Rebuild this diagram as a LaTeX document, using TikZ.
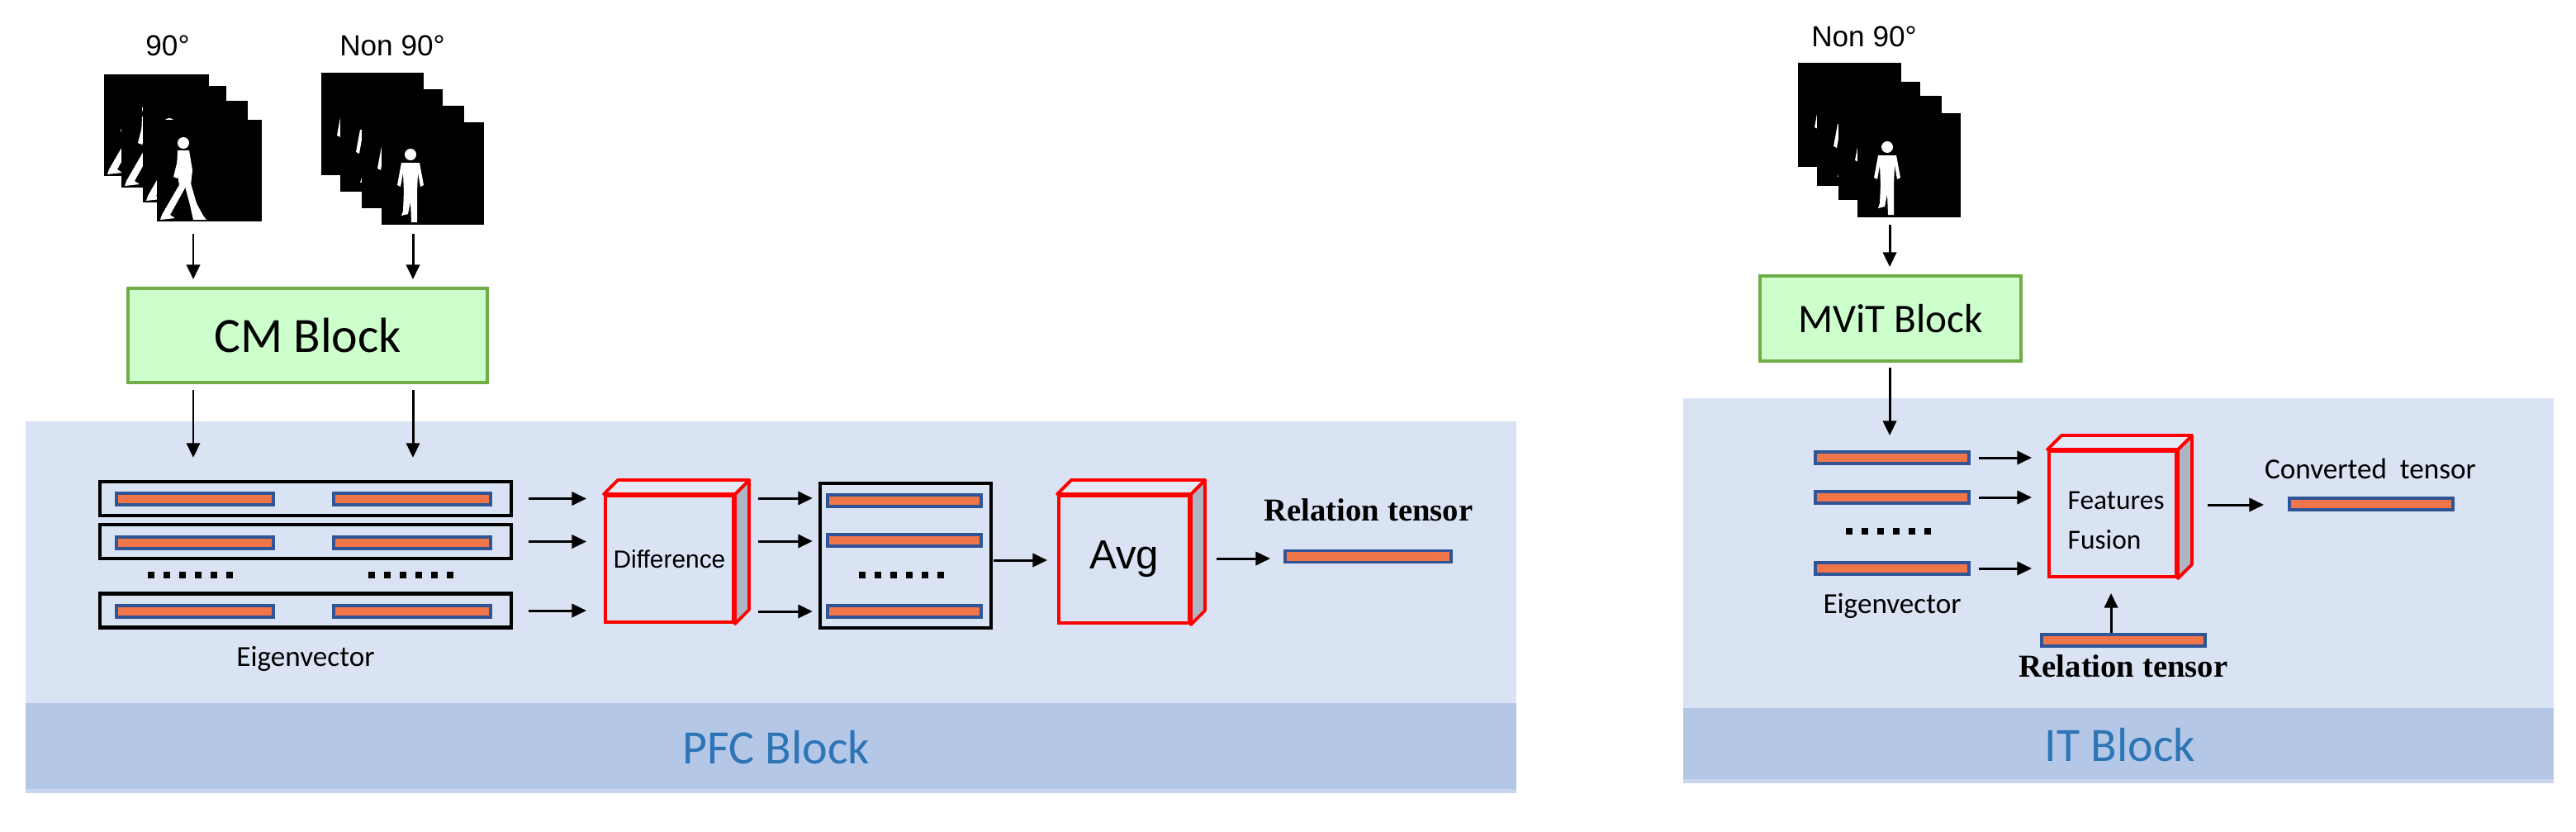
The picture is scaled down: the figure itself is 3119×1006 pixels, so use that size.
\documentclass[tikz,border=0pt]{standalone}
\usepackage{fontspec}
\setmainfont{Carlito}
\newfontfamily\arialf{Liberation Sans}
\newfontfamily\timesf{Liberation Serif}
\usetikzlibrary{arrows.meta,calc}
\definecolor{bgc}{HTML}{DAE3F3}
\definecolor{bandc}{HTML}{B4C7E7}
\definecolor{stripc}{HTML}{C9D6EE}
\definecolor{titc}{HTML}{2E75B6}
\definecolor{grf}{HTML}{CCFFCC}
\definecolor{grd}{HTML}{70AD47}
\definecolor{barf}{HTML}{F07548}
\definecolor{barb}{HTML}{2F5597}
\definecolor{sidec}{HTML}{ADB5C4}
\definecolor{topc}{HTML}{E4EAF6}
\newcommand\mkcube[6]{%
  \node[front, minimum width=#4, minimum height=#5] (#1) at (#2,#3) {#6};
  \filldraw[fill=sidec, draw=red, line width=1.1pt, line join=round] (#1.north east) -- ++(17,-17) -- ($(#1.south east)+(17,-17)$) -- (#1.south east) -- cycle;
  \filldraw[fill=topc, draw=red, line width=1.1pt, line join=round] (#1.north west) -- ++(17,-17) -- ($(#1.north east)+(17,-17)$) -- (#1.north east) -- cycle;
}
\newcommand\sidewalker[2]{\begin{scope}[shift={(#1,#2)}]
  \fill[white] (2,-93) circle (7);
  \fill[white] (-5,-84) -- (9,-84) -- (13,-60) -- (11,-42) -- (-3,-42) -- (-6,-60) -- cycle;
  \fill[white] (-3,-80) -- (2,-80) -- (-5,-50) -- (-10,-52) -- cycle;
  \fill[white] (-2,-44) -- (6,-42) -- (-14,-6) -- (-8,-2) -- (-26,0) -- (-24,-6) -- cycle;
  \fill[white] (3,-44) -- (11,-44) -- (18,-20) -- (26,-5) -- (30,0) -- (14,0) -- (10,-18) -- cycle;
\end{scope}}
\newcommand\frontwalker[2]{\begin{scope}[shift={(#1,#2)}]
  \fill[white] (0,-82) circle (7);
  \fill[white] (-11,-72) -- (11,-72) -- (16,-45) -- (12,-43) -- (9,-60) -- (8,-36) -- (-8,-36) -- (-9,-60) -- (-12,-43) -- (-16,-45) -- cycle;
  \fill[white] (-8,-37) -- (8,-37) -- (8,0) -- (1,0) -- (0,-25) -- (-3,-10) -- (-11,-8) -- (-9,-14) -- cycle;
\end{scope}}
\begin{document}
\begin{tikzpicture}[x=0.01cm,y=-0.01cm,
  bar/.style={draw=barb, fill=barf, line width=1.1pt, inner sep=0pt, minimum height=0.14cm},
  arr/.style={-{Triangle[length=5pt,width=4.6pt]}, line width=0.85pt},
  rowbox/.style={draw, line width=1.2pt, inner sep=0pt},
  front/.style={draw=red, line width=1.1pt, fill=bgc, inner sep=0pt},
  gbox/.style={draw=grd, fill=grf, line width=1.1pt, inner sep=0pt},
  dots/.style={line width=2.3pt, dash pattern=on 2.3pt off 3.1pt},
  frame/.style={fill=black},
  lab/.style={font=\arialf\fontsize{10}{12}\selectfont},
  ttl/.style={text=titc, font=\fontsize{16.5}{19}\selectfont}]
\useasboundingbox (0,0) rectangle (3119,1006);
\fill[white] (0,0) rectangle (3119,1006);
% panels
\fill[bgc] (31,510) rectangle (1836,851);
\fill[bandc] (31,851) rectangle (1836,955);
\fill[stripc] (31,955) rectangle (1836,960);
\fill[bgc] (2038,482) rectangle (3092,857);
\fill[bandc] (2038,857) rectangle (3092,943);
\fill[stripc] (2038,943) rectangle (3092,948);
\node[ttl] (pfc) at (940,905) {PFC Block};
\node[ttl] (itb) at (2567,902) {IT Block};
% ---- left stacks
\node[lab] (l90) at (203,55) {90°};
\node[lab] (ln90) at (475,55) {Non 90°};
\foreach \x/\y in {126/90,147/104,173/122,190/145}{
  \fill[frame] (\x,\y) rectangle ++(127,123);
  \sidewalker{\x+30}{\y+121}}
\foreach \x/\y in {389/88,412/108,438/128,462/148}{
  \fill[frame] (\x,\y) rectangle ++(124,124);
  \frontwalker{\x+35}{\y+121}}
\coordinate (s1) at (234,283);
\coordinate (s2) at (500,283);
\node[gbox, minimum width=4.35cm, minimum height=1.14cm, font=\fontsize{17}{20}\selectfont] (cm) at (372.5,406) {CM Block};
\draw[arr] (s1) -- (s1 |- cm.north) [shorten >=0.09cm];
\draw[arr, shorten >=0.09cm] (s2) -- (s2 |- cm.north);
% rows
\node[rowbox, minimum width=4.98cm, minimum height=0.41cm] (r1) at (370,603.5) {};
\node[rowbox, minimum width=4.98cm, minimum height=0.41cm] (r2) at (370,655.5) {};
\node[rowbox, minimum width=4.98cm, minimum height=0.41cm] (r3) at (370,739) {};
\foreach \i/\y in {1/604,2/657,3/740}{
  \node[bar, minimum width=1.9cm] (la\i) at (236,\y) {};
  \node[bar, minimum width=1.9cm] (lb\i) at (499,\y) {};}
\coordinate (c1) at (234,472);
\coordinate (c2) at (500,472);
\draw[arr, shorten >=0.27cm] (c1) -- (c1 |- r1.north);
\draw[arr, shorten >=0.27cm] (c2) -- (c2 |- r1.north);
\draw[dots] (179,696) -- (288,696);
\draw[dots] (446,696) -- (555,696);
\node[font=\fontsize{10}{12}\selectfont] (eig1) at (370,797) {Eigenvector};
% difference cube
\mkcube{diff}{810.5}{676.5}{1.55cm}{1.53cm}{\arialf\fontsize{8.5}{10}\selectfont Difference}
\foreach \r in {r1,r2,r3}{
  \draw[arr, shorten <=0.19cm, shorten >=0.21cm] (\r.east) -- (\r.east -| diff.west);}
% box2
\node[rowbox, minimum width=2.07cm, minimum height=1.75cm] (b2) at (1096.5,672.5) {};
\node[bar, minimum width=1.86cm] (m1) at (1095,606) {};
\node[bar, minimum width=1.86cm] (m2) at (1095,654) {};
\node[bar, minimum width=1.86cm] (m3) at (1095,740) {};
\draw[dots] (1040,696) -- (1149,696);
\foreach \y in {603,655,740}{
  \coordinate (d\y) at (905,\y);
  \draw[arr, shorten <=0.13cm, shorten >=0.07cm] (d\y) -- (d\y -| b2.west);}
% avg
\mkcube{avg}{1361}{677}{1.58cm}{1.54cm}{\arialf\fontsize{14}{16}\selectfont Avg}
\coordinate (b2o) at (1200,678);
\draw[arr, shorten <=0.03cm, shorten >=0.12cm] (b2o) -- (b2o -| avg.west);
\node[bar, minimum width=2.01cm] (rel1) at (1656.5,673.5) {};
\coordinate (ao) at (1456,676);
\draw[arr, shorten <=0.17cm, shorten >=0.16cm] (ao) -- (ao -| rel1.west);
\node[font=\timesf\bfseries\fontsize{11}{13}\selectfont] (rt1) at (1657,617) {Relation tensor};
% ---- right
\node[lab] (rn90) at (2257,44) {Non 90°};
\foreach \x/\y in {2177/76,2200/99,2226/116,2249/137}{
  \fill[frame] (\x,\y) rectangle ++(125,126);
  \frontwalker{\x+36}{\y+123}}
\coordinate (s3) at (2288,272);
\node[gbox, minimum width=3.16cm, minimum height=1.03cm, font=\fontsize{14}{17}\selectfont] (mvit) at (2289,385.5) {MViT Block};
\draw[arr, shorten >=0.09cm] (s3) -- (s3 |- mvit.north);
\node[bar, minimum width=1.86cm] (e1) at (2291,554) {};
\node[bar, minimum width=1.86cm] (e2) at (2291,602) {};
\node[bar, minimum width=1.86cm] (e3) at (2291,688) {};
\coordinate (mo) at (2288,437);
\draw[arr, shorten <=0.08cm, shorten >=0.18cm] (mo) -- (mo |- e1.north);
\draw[dots] (2235,643) -- (2344,643);
\node[font=\fontsize{10}{12}\selectfont] (eig2) at (2291,733) {Eigenvector};
\mkcube{fus}{2558}{622}{1.54cm}{1.52cm}{}
\node[font=\fontsize{9.5}{13.5}\selectfont, align=left, anchor=west, inner sep=0pt] (fust) at (2503,630) {Features\\Fusion};
\foreach \e in {e1,e2,e3}{
  \draw[arr, shorten <=0.10cm, shorten >=0.19cm] (\e.east) -- (\e.east -| fus.west);}
\node[bar, minimum width=1.98cm] (rel2) at (2571,775) {};
\coordinate (ru) at (2556,766);
\draw[arr, shorten >=0.18cm] (ru) -- (ru |- fus.south);
\node[font=\timesf\bfseries\fontsize{11}{13}\selectfont] (rt2) at (2571,806) {Relation tensor};
\node[bar, minimum width=1.98cm] (conv) at (2871,610) {};
\coordinate (fo) at (2652,611);
\draw[arr, shorten <=0.21cm, shorten >=0.29cm] (fo) -- (fo -| conv.west);
\node[font=\fontsize{10}{12}\selectfont] (ct) at (2870,567) {Converted\ \ tensor};
\end{tikzpicture}
\end{document}
